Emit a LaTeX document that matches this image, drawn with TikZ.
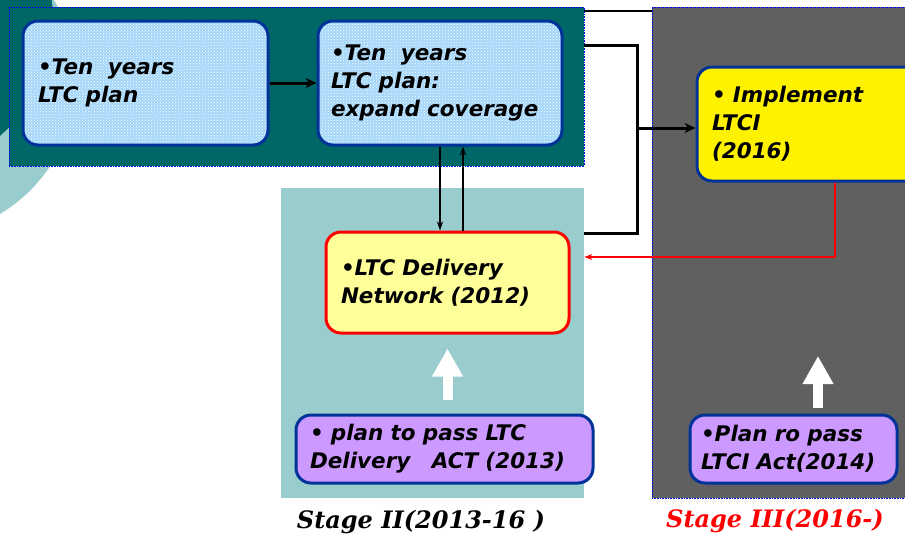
\documentclass[tikz,border=0pt]{standalone}
\usepackage{fontspec}
\setmainfont{DejaVu Sans}
\newfontfamily\stagefont{DejaVu Serif}
\usepackage{tikz}
\usetikzlibrary{arrows.meta}
\usetikzlibrary{patterns}
\usetikzlibrary{positioning}

\definecolor{darkteal}{HTML}{006666}
\definecolor{lightteal}{HTML}{99CCCC}
\definecolor{stagegray}{HTML}{606060}
\definecolor{borderblue}{HTML}{003399}
\definecolor{planblue}{HTML}{A4D6FA}
\definecolor{paleyellow}{HTML}{FFFF99}
\definecolor{actpurple}{HTML}{CC99FF}

\tikzset{
    stagebox/.style={rectangle, inner sep=0pt, draw=blue, densely dotted, line width=0.6pt},
    box/.style={rectangle, rounded corners=15pt, line width=3pt, draw=borderblue,
        inner xsep=15pt, inner ysep=0pt, align=left,
        font=\fontsize{21.5}{28}\selectfont\bfseries\itshape},
    planbox/.style={box, preaction={fill=planblue}, pattern=crosshatch dots, pattern color=white},
    actbox/.style={box, fill=actpurple},
    link/.style={line width=1.2pt, -{Stealth[length=9pt,width=6pt]}},
    heavylink/.style={line width=3pt, -{Stealth[length=11pt,width=10pt]}},
    uparrow/.style={white, line width=10pt, -{Triangle[length=28pt,width=29pt]}},
    stagelabel/.style={font=\fontsize{24}{26}\selectfont\stagefont\bfseries\itshape}
}

\begin{document}
\begin{tikzpicture}[x=1pt, y=-1pt]

    \useasboundingbox (0,0) rectangle (905,539);

    % discs on the left
    \fill[lightteal] (-80,80) circle[radius=156pt];
    \fill[darkteal] (-100,20) circle[radius=153pt];

    % stages
    \node[stagebox, fill=darkteal, minimum width=575pt, minimum height=159pt] (S1) at (296.5,86.5) {};
    \node[stagebox, draw=none, fill=lightteal, minimum width=303pt, minimum height=310pt] (S2) at (432.5,343) {};
    \node[stagebox, fill=stagegray, minimum width=270pt, minimum height=491pt] (S3) at (787,252.5) {};

    % boxes
    \node[planbox, minimum width=245pt, minimum height=124pt, text width=215pt] (A) at (145.5,83) {\textbullet Ten~ years\\LTC plan};
    \node[planbox, minimum width=244pt, minimum height=124pt, text width=218pt, inner xsep=13pt] (B) at (440,83) {\textbullet Ten~ years\\LTC plan:\\expand coverage};
    \node[box, fill=yellow, minimum width=228pt, minimum height=114pt, text width=198pt] (C) at (811,124) {\textbullet{} Implement\\LTCI\\(2016)};
    \node[box, draw=red, fill=paleyellow, minimum width=243pt, minimum height=101pt, text width=213pt] (D) at (447.5,282.5) {\textbullet LTC Delivery\\Network (2012)};
    \node[actbox, minimum width=297pt, minimum height=68pt, text width=269pt, inner xsep=14pt] (E) at (444.5,449) {\textbullet{} plan to pass LTC\\Delivery~~ ACT (2013)};
    \node[actbox, minimum width=207pt, minimum height=68pt, text width=185pt, inner xsep=11pt] (F) at (793.5,449) {\textbullet Plan ro pass\\LTCI Act(2014)};

    % joints
    \coordinate (j0) at (620,11);
    \coordinate (j1) at (637,45);
    \coordinate (j2) at (637,233);
    \coordinate (j3) at (835,257);
    \coordinate (j4) at (818,408);
    \coordinate (j5) at (637,128);

    % connectors
    \draw[line width=1.2pt] (S1.east |- j0) -- (S3.west |- j0);
    \draw[heavylink] (A) -- (B);
    \draw[link] (B.south) -- (B.south |- D.north);
    \draw[link] ([xshift=23pt]B.south |- D.north) -- ([xshift=23pt]B.south);
    \draw[line width=3pt] (S1.east |- j1) -- (j1) -- (j2) -- (S2.east |- j2);
    \draw[heavylink] (j5) -- (C.west |- j5);
    \draw[red, line width=2pt, -{Stealth[length=8pt,width=6pt]}] (C.south -| j3) -- (j3) -- (S2.east |- j3);
    \draw[uparrow] ([yshift=14pt]E.north -| D.south) -- ([yshift=-14pt]D.south);
    \draw[uparrow] (j4) -- ++(0,-52);

    % stage labels
    \node[stagelabel] (L2) at (421,522) {Stage II(2013-16 )};
    \node[stagelabel, text=red] (L3) at (775,521) {Stage III(2016-)};

\end{tikzpicture}
\end{document}
